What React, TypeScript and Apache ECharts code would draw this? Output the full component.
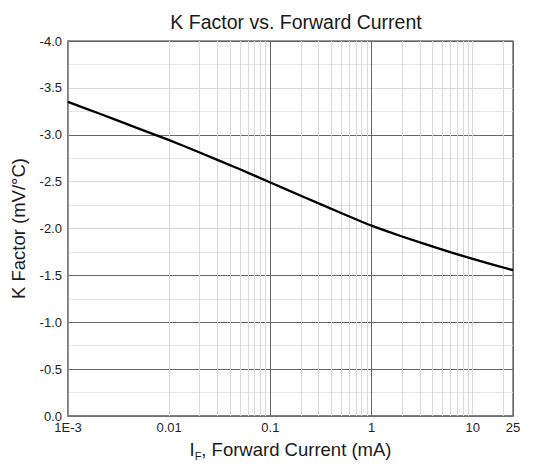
import React, { useEffect, useRef } from "react";
import * as echarts from "echarts";

const titleText = "K Factor vs. Forward Current";
const yAxisTitle = "K Factor (mV/°C)";
const xAxisTitleMain = "I";
const xAxisTitleSub = "F";
const xAxisTitleRest = ", Forward Current (mA)";

// Forward current (mA) and K factor (mV/°C)
const currentMA = [0.001, 0.002, 0.005, 0.01, 0.02, 0.05, 0.1, 0.2, 0.5, 1, 2, 5, 10, 25];
const kFactor = [-3.35, -3.229, -3.066, -2.942, -2.811, -2.632, -2.49, -2.35, -2.165, -2.03, -1.915, -1.775, -1.675, -1.555];

const xMin = 0.001;
const xMax = 25;
const yMin = -4;
const yMax = 0;
const yStep = 0.5;

// minor vertical gridline values (2..9 per decade)
const minorX = [
  0.002, 0.003, 0.004, 0.005, 0.006, 0.007, 0.008, 0.009,
  0.02, 0.03, 0.04, 0.05, 0.06, 0.07, 0.08, 0.09,
  0.2, 0.3, 0.4, 0.5, 0.6, 0.7, 0.8, 0.9,
  2, 3, 4, 5, 6, 7, 8, 9,
  20,
];

const FONT = "'Liberation Sans', Arial, sans-serif";
const DARK = "#666666";
const LIGHT = "#dadada";

export default function App() {
  const ref = useRef<HTMLDivElement>(null);

  useEffect(() => {
    if (!ref.current) return;
    const chart = echarts.init(ref.current, null, { renderer: "svg" });
    const data = currentMA.map((x, i) => [x, kFactor[i]]);

    chart.setOption({
      animation: false,
      backgroundColor: "#ffffff",
      textStyle: { fontFamily: FONT },
      title: {
        text: titleText,
        left: 291,
        top: 7,
        textAlign: "center",
        textStyle: { fontFamily: FONT, fontSize: 19.5, fontWeight: "normal", color: "#1a1a1a" },
      },
      grid: {
        left: 68,
        right: 29,
        top: 41,
        bottom: 48,
        show: true,
        borderColor: "#777",
        borderWidth: 1.5,
        backgroundColor: "transparent",
      },
      xAxis: {
        type: "log",
        logBase: 10,
        min: xMin,
        max: xMax,
        name: "{m|" + xAxisTitleMain + "}{s|" + xAxisTitleSub + "}{m|" + xAxisTitleRest + "}",
        nameLocation: "middle",
        nameGap: 21,
        nameTextStyle: {
          rich: {
            m: { fontFamily: FONT, fontSize: 18.5, color: "#1a1a1a" },
            s: { fontFamily: FONT, fontSize: 11, color: "#1a1a1a", verticalAlign: "bottom", padding: [13, 0, 0, 0] },
          },
        },
        axisLine: { show: true, lineStyle: { color: "#777", width: 1.5 } },
        axisTick: { show: false },
        axisLabel: {
          fontFamily: FONT,
          fontSize: 13,
          color: "#222",
          margin: 5,
          showMinLabel: true,
          showMaxLabel: true,
          formatter: (v: number) => {
            if (Math.abs(v - 0.001) < 1e-9) return "1E-3";
            if (Math.abs(v - 25) < 1e-6) return "25";
            return String(parseFloat(v.toPrecision(6)));
          },
        },
        splitLine: {
          show: true,
          lineStyle: { color: [LIGHT, LIGHT, DARK, DARK, LIGHT, DARK], width: 1 },
        },
      },
      yAxis: {
        type: "value",
        inverse: true,
        min: yMin,
        max: yMax,
        interval: yStep,
        name: yAxisTitle,
        nameLocation: "middle",
        nameGap: 40,
        nameRotate: 90,
        nameTextStyle: { fontFamily: FONT, fontSize: 18.5, color: "#1a1a1a" },
        axisLine: { show: true, lineStyle: { color: "#777", width: 1.5 } },
        axisTick: { show: false },
        axisLabel: {
          fontFamily: FONT,
          fontSize: 13,
          color: "#222",
          margin: 6,
          formatter: (v: number) => v.toFixed(1),
        },
        splitLine: {
          show: true,
          lineStyle: {
            color: [DARK, LIGHT, DARK, LIGHT, LIGHT, DARK, DARK, DARK, DARK],
            width: 1,
          },
        },
        minorTick: { show: false, splitNumber: 2 },
        minorSplitLine: { show: true, lineStyle: { color: "#e6e6e6", width: 1 } },
      },
      series: [
        {
          type: "line",
          data,
          smooth: 0.2,
          showSymbol: false,
          symbol: "none",
          lineStyle: { color: "#000", width: 2.3, join: "round" },
          z: 5,
          markLine: {
            silent: true,
            symbol: "none",
            label: { show: false },
            lineStyle: { color: LIGHT, width: 1, type: "solid" },
            data: minorX.map((v) => ({ xAxis: v })),
            z: 1,
          },
        },
      ],
    });

    return () => chart.dispose();
  }, []);

  return (
    <div
      ref={ref}
      style={{ position: "fixed", left: 0, top: 0, width: 542, height: 466, background: "#fff" }}
    />
  );
}
